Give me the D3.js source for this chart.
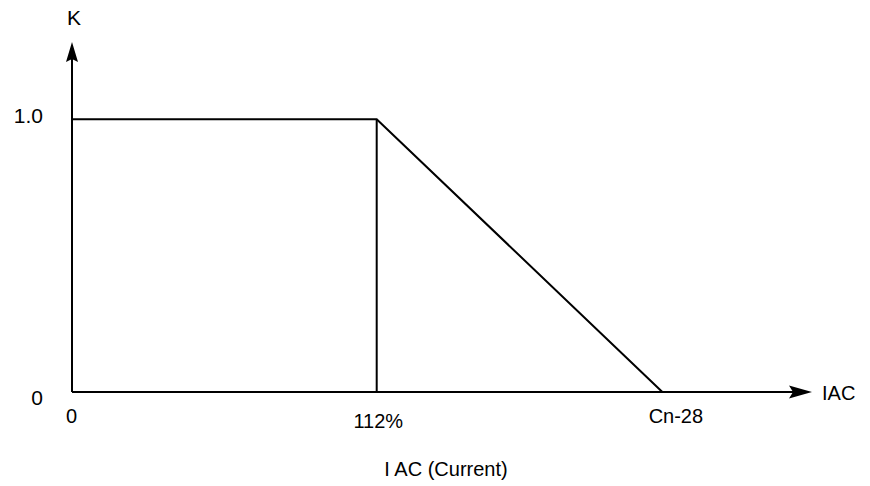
<!DOCTYPE html>
<html>
<head>
<meta charset="utf-8">
<script src="https://cdn.jsdelivr.net/npm/d3@7"></script>
<style>
  html, body { margin: 0; padding: 0; background: #fff; }
  svg { display: block; font-family: "Liberation Sans", Arial, sans-serif; }
  text { fill: #000; }
</style>
</head>
<body>
<svg id="chart" width="870" height="486"></svg>
<script>
// ---- data ----
const xTickValues = [0, 112, 217];          // IAC positions (0, 112%, Cn-28)
const xTickLabels = ["0", "112%", "Cn-28"];
const yTickValues = [0, 1.0];
const yTickLabels = ["0", "1.0"];
const curveX = [0, 112, 217];               // K curve
const curveK = [1.0, 1.0, 0];
const dividerX = [112, 112];                // vertical line at 112%
const dividerK = [0, 1.0];
const xAxisName = "IAC";
const yAxisName = "K";
const xTitle = "I AC (Current)";

// ---- layout ----
const svg = d3.select("#chart");
const xMax = 272, yMax = 1.283;
const x = d3.scaleLinear().domain([0, xMax]).range([72, 812]);
const y = d3.scaleLinear().domain([0, yMax]).range([392, 42]);
const ink = "#000";

// axes lines
svg.append("line")
  .attr("x1", x(0)).attr("y1", y(0)).attr("x2", x(0)).attr("y2", y(yMax) + 14)
  .attr("stroke", ink).attr("stroke-width", 2);
svg.append("line")
  .attr("x1", x(0)).attr("y1", y(0)).attr("x2", x(xMax) - 16).attr("y2", y(0))
  .attr("stroke", ink).attr("stroke-width", 2);
// arrowheads
const ty = [x(0), y(yMax)];
svg.append("path")
  .attr("d", `M${ty[0]},${ty[1]} L${ty[0] + 6},${ty[1] + 20} L${ty[0]},${ty[1] + 17} L${ty[0] - 6},${ty[1] + 20} Z`)
  .attr("fill", ink);
const tx = [x(xMax), y(0)];
svg.append("path")
  .attr("d", `M${tx[0]},${tx[1]} L${tx[0] - 23},${tx[1] - 6.5} L${tx[0] - 19},${tx[1]} L${tx[0] - 23},${tx[1] + 6.5} Z`)
  .attr("fill", ink);

// tick labels via d3 axes
const xAxis = d3.axisBottom(x).tickValues(xTickValues)
  .tickFormat((d, i) => xTickLabels[i]).tickSize(0).tickPadding(17);
const gx = svg.append("g").attr("transform", `translate(0,${y(0)})`).call(xAxis);
gx.select(".domain").remove();
gx.selectAll("text").attr("font-size", 20).attr("fill", ink)
  .attr("font-family", "Liberation Sans, Arial, sans-serif")
  .attr("dx", (d, i) => i === 2 ? 13 : (i === 1 ? 1 : -1))
  .attr("dy", (d, i) => i === 1 ? "0.95em" : "0.71em");

const yAxis = d3.axisLeft(y).tickValues(yTickValues)
  .tickFormat((d, i) => yTickLabels[i]).tickSize(0).tickPadding(29);
const gy = svg.append("g").attr("transform", `translate(${x(0)},0)`).call(yAxis);
gy.select(".domain").remove();
gy.selectAll("text").attr("font-size", 21).attr("fill", ink)
  .attr("font-family", "Liberation Sans, Arial, sans-serif")
  .attr("dy", (d, i) => i === 0 ? "0.6em" : "0.15em");

// curve
const line = d3.line().x(d => x(d[0])).y(d => y(d[1]));
svg.append("path")
  .datum(curveX.map((v, i) => [v, curveK[i]]))
  .attr("d", line).attr("fill", "none").attr("stroke", ink).attr("stroke-width", 2);
svg.append("path")
  .datum(dividerX.map((v, i) => [v, dividerK[i]]))
  .attr("d", line).attr("fill", "none").attr("stroke", ink).attr("stroke-width", 2);

// axis names
svg.append("text").attr("x", 74).attr("y", 25).attr("text-anchor", "middle")
  .attr("font-size", 21).text(yAxisName);
svg.append("text").attr("x", 822).attr("y", 400).attr("text-anchor", "start")
  .attr("font-size", 20).text(xAxisName);
svg.append("text").attr("x", 446).attr("y", 476).attr("text-anchor", "middle")
  .attr("font-size", 20).text(xTitle);
</script>
</body>
</html>
